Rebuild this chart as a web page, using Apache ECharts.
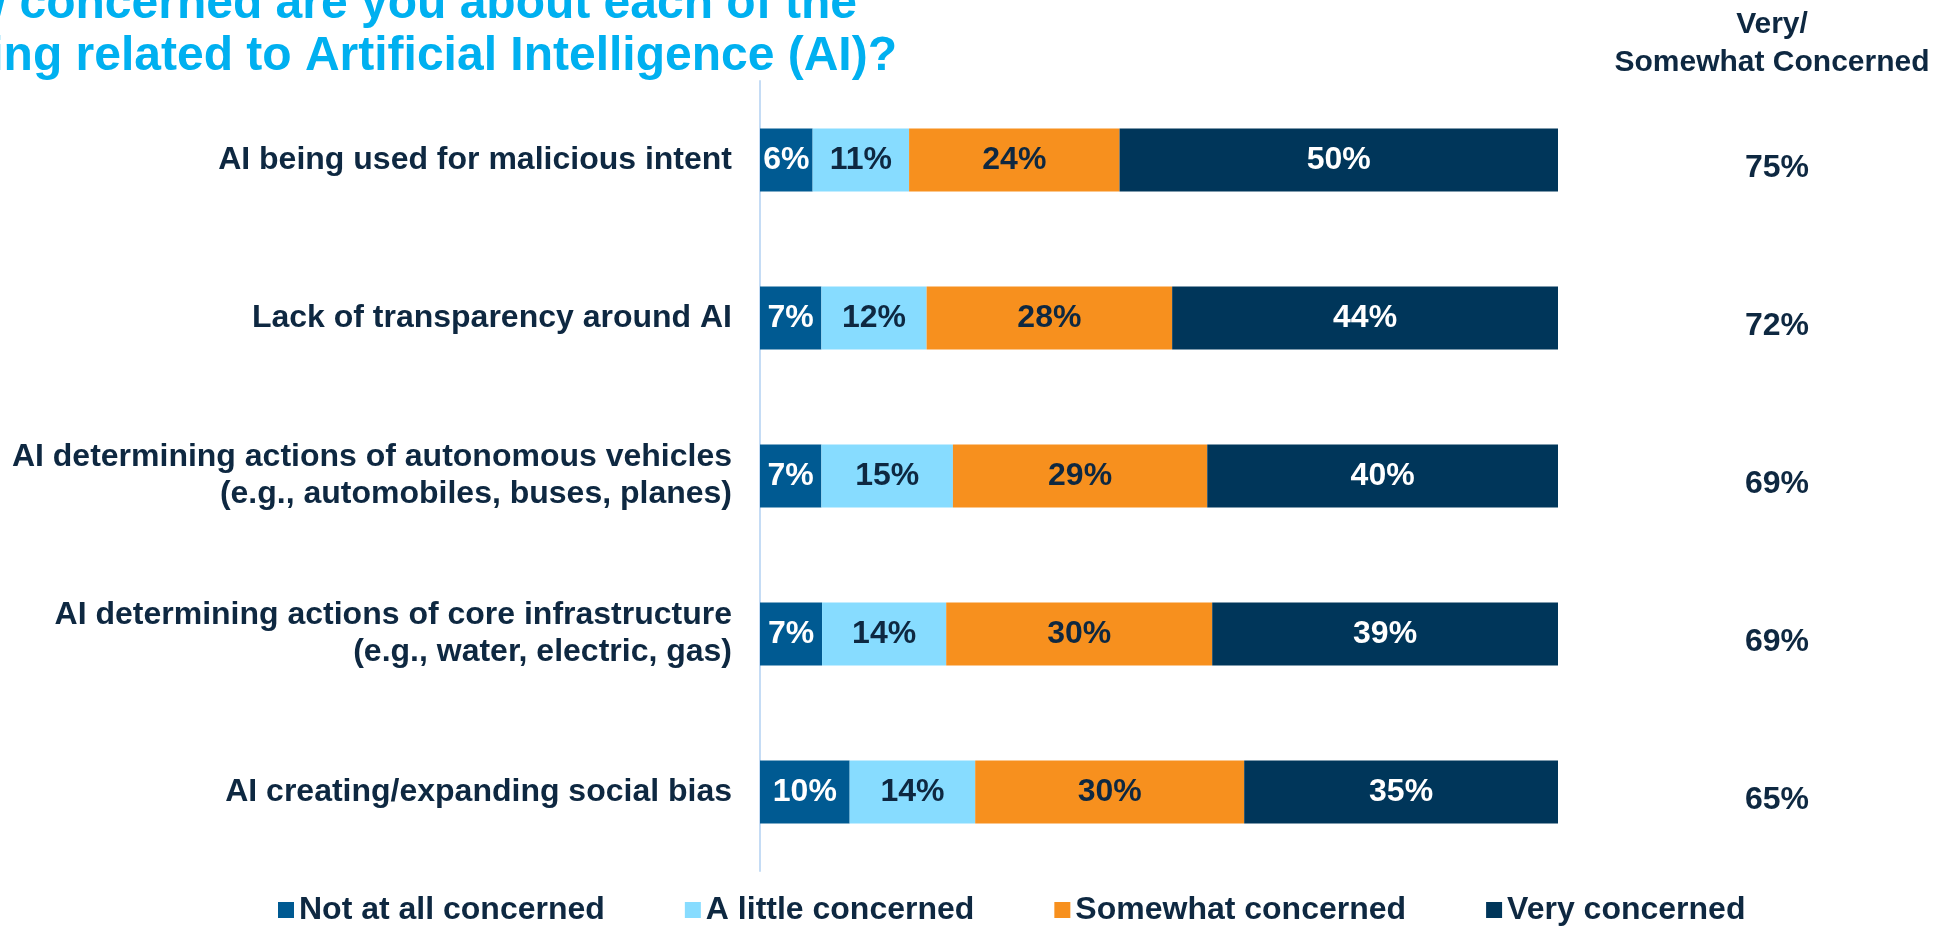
<!DOCTYPE html>
<html>
<head>
<meta charset="utf-8">
<title>AI concerns</title>
<script src="https://cdn.jsdelivr.net/npm/echarts@6/dist/echarts.min.js"></script>
<style>
  html, body { margin: 0; padding: 0; background: #fff; }
  #main { width: 1959px; height: 927px; }
</style>
</head>
<body>
<div id="main"></div>
<script>
const categories = [
    'AI being used for malicious intent',
    'Lack of transparency around AI',
    'AI determining actions of autonomous vehicles\n(e.g., automobiles, buses, planes)',
    'AI determining actions of core infrastructure\n(e.g., water, electric, gas)',
    'AI creating/expanding social bias'
];
const seriesNames = ['Not at all concerned', 'A little concerned', 'Somewhat concerned', 'Very concerned'];
const notAtAll = [6, 7, 7, 7, 10];
const aLittle = [11, 12, 15, 14, 14];
const somewhat = [24, 28, 29, 30, 30];
const veryConcerned = [50, 44, 40, 39, 35];
const verySomewhat = [75, 72, 69, 69, 65];

const FONT = "'Liberation Sans', Arial, sans-serif";
const NAVY = '#0E2841';
const colors = ['#005A92', '#87DCFF', '#F7901E', '#00365A'];
const labelColors = ['#fff', NAVY, NAVY, '#fff'];

const raw = [notAtAll, aLittle, somewhat, veryConcerned];
// each bar is drawn as share of its row total, labels keep the reported numbers
const rowSum = categories.map((c, i) => raw.reduce((s, arr) => s + arr[i], 0));

const chart = echarts.init(document.getElementById('main'));

const option = {
    backgroundColor: '#fff',
    animation: false,
    textStyle: { fontFamily: FONT },
    grid: { left: 760, right: 401, top: 81, bottom: 56 },
    legend: {
        left: 273,
        top: 889,
        itemWidth: 16,
        itemHeight: 16,
        itemGap: 80,
        icon: 'rect',
        textStyle: { fontSize: 32, fontWeight: 'bold', color: NAVY, fontFamily: FONT },
        data: seriesNames
    },
    xAxis: { type: 'value', min: 0, max: 100, show: false },
    yAxis: [
        {
            type: 'category',
            inverse: true,
            data: categories,
            axisLine: { show: true, lineStyle: { color: '#C5DCF5', width: 2 } },
            axisTick: { show: false },
            axisLabel: {
                margin: 28,
                fontSize: 32,
                fontWeight: 'bold',
                color: NAVY,
                lineHeight: 37,
                align: 'right',
                fontFamily: FONT
            }
        },
        {
            type: 'category',
            inverse: true,
            position: 'right',
            data: verySomewhat.map(v => v + '%'),
            axisLine: { show: false },
            axisTick: { show: false },
            axisLabel: {
                margin: 187,
                fontSize: 32,
                fontWeight: 'bold',
                color: NAVY,
                verticalAlign: 'top',
                lineHeight: 16,
                fontFamily: FONT
            }
        }
    ],
    graphic: [
        {
            type: 'text',
            style: {
                text: 'How concerned are you about each of the',
                x: 857, y: 5,
                align: 'right', verticalAlign: 'middle',
                fill: '#00B0F0', font: 'bold 48px ' + FONT
            }
        },
        {
            type: 'text',
            style: {
                text: 'following related to Artificial Intelligence (AI)?',
                x: 897, y: 57,
                align: 'right', verticalAlign: 'middle',
                fill: '#00B0F0', font: 'bold 48px ' + FONT
            }
        },
        {
            type: 'text',
            style: {
                text: 'Very/\nSomewhat Concerned',
                x: 1772, y: 44,
                align: 'center', verticalAlign: 'middle',
                lineHeight: 38,
                fill: NAVY, font: 'bold 30px ' + FONT
            }
        }
    ],
    series: raw.map((arr, k) => ({
        name: seriesNames[k],
        type: 'bar',
        stack: 'total',
        barWidth: 63,
        itemStyle: { color: colors[k] },
        label: {
            show: true,
            position: 'inside',
            fontSize: 32,
            fontWeight: 'bold',
            color: labelColors[k],
            fontFamily: FONT,
            formatter: p => arr[p.dataIndex] + '%'
        },
        data: arr.map((v, i) => v / rowSum[i] * 100)
    }))
};

chart.setOption(option);
window.addEventListener('resize', () => {
    chart.resize();
});
</script>
</body>
</html>
